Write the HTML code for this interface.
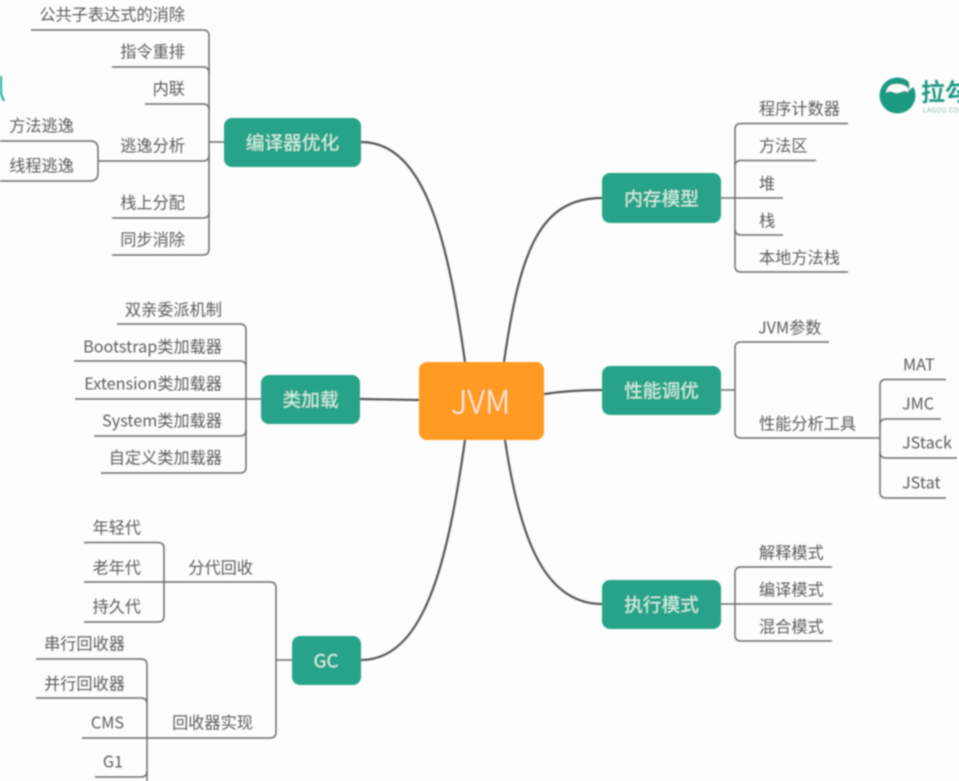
<!DOCTYPE html>
<html><head><meta charset="utf-8"><style>
html,body{margin:0;padding:0;background:#fdfdfd;width:959px;height:781px;overflow:hidden}
svg{display:block}
text{font-family:"Noto Sans CJK SC","Liberation Sans",sans-serif;fill:#5c5c5c;font-size:16.2px;transform:translateY(.6px)}
.n text,text.n{fill:#d4f3e8;font-size:18.7px;text-anchor:middle}
.e{text-anchor:end}
.s{text-anchor:start}
.l path,.l line{fill:none;stroke:#6a6a6a;stroke-width:1.5}
.c path{fill:none;stroke:#555;stroke-width:2.2}
</style></head><body>
<svg width="959" height="781" viewBox="0 0 959 781" xmlns="http://www.w3.org/2000/svg">
<defs><filter id="b" x="-5%" y="-5%" width="110%" height="110%"><feGaussianBlur stdDeviation="0.7"/></filter></defs>
<rect width="959" height="781" fill="#fdfdfd"/>
<g filter="url(#b)">
<!-- main connectors -->
<g class="c">
<path d="M361 142C425 142 448 240 465 362"/>
<path d="M504 362C520 250 540 198 602 198"/>
<path d="M544 394C565 391 580 390 602 390"/>
<path d="M419 400L360 399"/>
<path d="M465 440C448 560 425 660 361 660"/>
<path d="M505 440C520 540 545 604 602 604"/>
</g>
<!-- branch lines -->
<g class="l">
<!-- compiler -->
<path d="M31 30H203Q209 30 209 36V249Q209 255 203 255H112"/>
<path d="M112 67H203Q209 67 209 73"/>
<path d="M145 104H203Q209 104 209 110"/>
<path d="M98 161H203Q209 161 209 155"/>
<path d="M112 218H203Q209 218 209 212"/>
<line x1="209" y1="142" x2="224" y2="142"/>
<path d="M0 141H90Q98 141 98 149V173Q98 181 90 181H0"/>
<!-- class loader -->
<path d="M117 324H240Q246 324 246 330V467Q246 473 240 473H101"/>
<path d="M74 361H240Q246 361 246 367"/>
<path d="M75 399H261"/>
<path d="M94 436H240Q246 436 246 430"/>
<!-- GC -->
<path d="M84 582H270Q276 582 276 588V732Q276 738 270 738H82"/>
<line x1="276" y1="660" x2="292" y2="660"/>
<path d="M84 542.500H158Q164 542.500 164 548.500V616Q164 622 158 622H84"/>
<path d="M36 659H141Q147 659 147 665V781"/>
<path d="M36 698H141Q147 698 147 704"/>
<path d="M95 777H141Q147 777 147 771"/>
<!-- memory -->
<path d="M848 123.500H741Q735 123.500 735 129.500V266Q735 272 741 272H848"/>
<path d="M816 160.500H741Q735 160.500 735 166.500"/>
<path d="M721 198H783"/>
<path d="M783 235H741Q735 235 735 229"/>
<!-- perf -->
<path d="M829 342H741Q735 342 735 348V432Q735 438 741 438H880"/>
<line x1="721" y1="390" x2="735" y2="390"/>
<path d="M946 379.500H886Q880 379.500 880 385.500V492Q880 498 886 498H946"/>
<path d="M941 419H886Q880 419 880 425"/>
<path d="M957 458H886Q880 458 880 452"/>
<!-- exec -->
<path d="M832 567H741Q735 567 735 573V635Q735 641 741 641H832"/>
<path d="M721 604H832"/>
</g>
<!-- nodes -->
<rect x="419" y="362" width="125" height="78" rx="8" fill="#ff9a22"/>
<g fill="#25a388">
<rect x="224" y="118" width="137" height="49" rx="8"/>
<rect x="261" y="375" width="99" height="49" rx="8"/>
<rect x="292" y="636" width="69" height="49" rx="8"/>
<rect x="602" y="173" width="119" height="50" rx="8"/>
<rect x="602" y="366" width="119" height="49" rx="8"/>
<rect x="602" y="580" width="119" height="49" rx="8"/>
</g>
<g class="n">
<text x="292.500" y="149">编译器优化</text>
<text x="310.500" y="406">类加载</text>
<text x="326" y="667">GC</text>
<text x="661.500" y="205">内存模型</text>
<text x="661.500" y="397">性能调优</text>
<text x="661.500" y="611">执行模式</text>
</g>
<text x="480.500" y="413" style="fill:#ffeeda;font-size:32px;font-weight:300;text-anchor:middle">JVM</text>
<!-- left labels -->
<g class="e">
<text x="185" y="20" class="e">公共子表达式的消除</text>
<text x="185" y="57" class="e">指令重排</text>
<text x="185" y="94" class="e">内联</text>
<text x="185" y="151" class="e">逃逸分析</text>
<text x="185" y="208" class="e">栈上分配</text>
<text x="185" y="245" class="e">同步消除</text>
<text x="74" y="131" class="e">方法逃逸</text>
<text x="74" y="171" class="e">线程逃逸</text>
<text x="222" y="315" class="e">双亲委派机制</text>
<text x="222" y="352" class="e">Bootstrap类加载器</text>
<text x="222" y="389" class="e">Extension类加载器</text>
<text x="222" y="426" class="e">System类加载器</text>
<text x="222" y="463" class="e">自定义类加载器</text>
<text x="141" y="533" class="e">年轻代</text>
<text x="141" y="573" class="e">老年代</text>
<text x="141" y="612" class="e">持久代</text>
<text x="253" y="573" class="e">分代回收</text>
<text x="253" y="728" class="e">回收器实现</text>
<text x="125" y="649" class="e">串行回收器</text>
<text x="125" y="689" class="e">并行回收器</text>
<text x="124" y="728" class="e">CMS</text>
<text x="123" y="767" class="e">G1</text>
</g>
<!-- right labels -->
<text x="759" y="114">程序计数器</text>
<text x="759" y="151">方法区</text>
<text x="759" y="189">堆</text>
<text x="759" y="226">栈</text>
<text x="759" y="263">本地方法栈</text>
<text x="758" y="333">JVM参数</text>
<text x="759" y="429">性能分析工具</text>
<text x="903" y="370">MAT</text>
<text x="902" y="409">JMC</text>
<text x="902" y="448">JStack</text>
<text x="902" y="488">JStat</text>
<text x="759" y="558">解释模式</text>
<text x="759" y="595">编译模式</text>
<text x="759" y="632">混合模式</text>
<!-- logo -->
<circle cx="897.500" cy="95.500" r="18" fill="#1f9a82"/>
<path d="M886 93Q887 84 897 84Q906 84 909 90L917 84L910 76H905Q912 82 908 92Q904 90 901 92Q897 94 893 92Q889 90 886 93Z" fill="#fdfdfd"/>
<text x="921" y="100" style="fill:#1f9a82;font-size:24px;font-weight:500;stroke:#1f9a82;stroke-width:.4">拉勾</text>
<text x="923" y="112" style="fill:#7dbcae;font-size:6.500px;letter-spacing:.5px">LAGOU.COM</text>
<!-- left logo fragment -->
<path d="M1 76V94L4 101" fill="none" stroke="#35bb9e" stroke-width="2.400"/>
</g>
</svg>
</body></html>
